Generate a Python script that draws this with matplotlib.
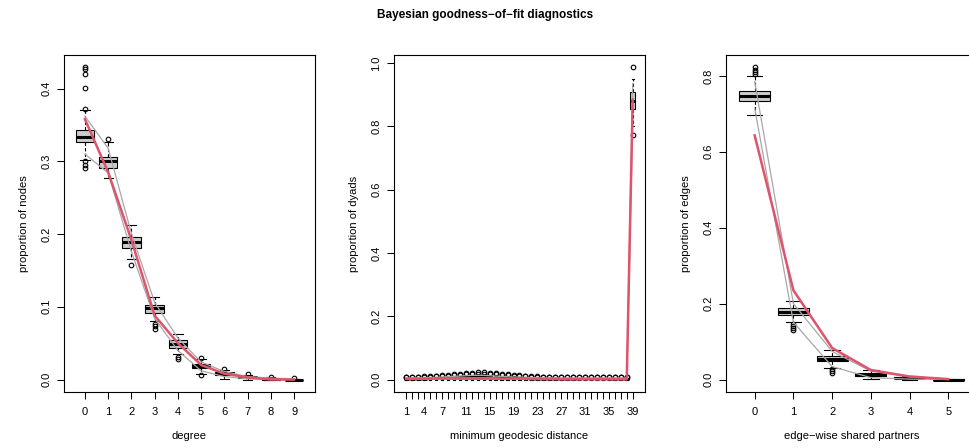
import numpy as np
import matplotlib.pyplot as plt

plt.rcParams['font.family'] = ['Liberation Sans', 'DejaVu Sans']
plt.rcParams['font.size'] = 8

# ---- degree panel ----
deg_x = [0, 1, 2, 3, 4, 5, 6, 7, 8, 9]
deg_q1 = [0.326, 0.291, 0.181, 0.092, 0.044, 0.016, 0.006, 0.002, 0.000, 0.000]
deg_med = [0.334, 0.300, 0.189, 0.098, 0.049, 0.019, 0.008, 0.003, 0.001, 0.000]
deg_q3 = [0.343, 0.306, 0.196, 0.103, 0.054, 0.022, 0.010, 0.004, 0.001, 0.000]
deg_lo = [0.302, 0.277, 0.166, 0.080, 0.035, 0.008, 0.001, 0.000, 0.000, 0.000]
deg_hi = [0.370, 0.327, 0.212, 0.114, 0.063, 0.028, 0.013, 0.006, 0.003, 0.001]
deg_fliers = [[0.429, 0.427, 0.420, 0.401, 0.372, 0.300, 0.295, 0.291],
              [0.330],
              [0.157],
              [0.077, 0.073, 0.070],
              [0.031, 0.028],
              [0.030, 0.006],
              [0.015],
              [0.007],
              [0.004],
              [0.002]]
deg_obs = [0.358, 0.285, 0.192, 0.088, 0.050, 0.020, 0.008, 0.003, 0.000, 0.000]
deg_up = [0.362, 0.318, 0.201, 0.106, 0.057, 0.024, 0.011, 0.004, 0.002, 0.001]
deg_low = [0.310, 0.284, 0.176, 0.084, 0.040, 0.012, 0.004, 0.001, 0.000, 0.000]

# ---- geodesic distance panel (last = Inf) ----
geo_x = list(range(1, 40))
geo_labels = ['1', '', '', '4', '', '', '7', '', '', '', '11', '', '', '', '15', '', '', '', '19', '',
              '', '', '23', '', '', '', '27', '', '', '', '31', '', '', '', '35', '', '', '', '39']
geo_q1 = [0.001, 0.001, 0.001, 0.001, 0.002, 0.002, 0.002, 0.002, 0.002, 0.003,
          0.003, 0.003, 0.003, 0.003, 0.003, 0.003, 0.003, 0.002, 0.002, 0.002,
          0.002, 0.001, 0.001, 0.001, 0.001, 0.001, 0.001, 0.001, 0.001, 0.001,
          0.001, 0.001, 0.001, 0.001, 0.001, 0.001, 0.001, 0.001, 0.854]
geo_med = [0.003, 0.003, 0.003, 0.003, 0.004, 0.004, 0.004, 0.005, 0.005, 0.006,
           0.006, 0.007, 0.007, 0.007, 0.007, 0.006, 0.006, 0.005, 0.005, 0.004,
           0.004, 0.003, 0.003, 0.003, 0.003, 0.003, 0.002, 0.002, 0.002, 0.002,
           0.002, 0.002, 0.002, 0.002, 0.002, 0.002, 0.002, 0.002, 0.880]
geo_q3 = [0.004, 0.004, 0.004, 0.005, 0.005, 0.006, 0.006, 0.007, 0.008, 0.009,
          0.010, 0.010, 0.011, 0.011, 0.010, 0.009, 0.009, 0.008, 0.007, 0.006,
          0.006, 0.005, 0.005, 0.004, 0.004, 0.004, 0.004, 0.004, 0.004, 0.004,
          0.004, 0.004, 0.004, 0.004, 0.004, 0.004, 0.004, 0.004, 0.909]
geo_lo = [0.000, 0.000, 0.000, 0.000, 0.000, 0.000, 0.000, 0.000, 0.000, 0.000,
          0.000, 0.000, 0.000, 0.000, 0.000, 0.000, 0.000, 0.000, 0.000, 0.000,
          0.000, 0.000, 0.000, 0.000, 0.000, 0.000, 0.000, 0.000, 0.000, 0.000,
          0.000, 0.000, 0.000, 0.000, 0.000, 0.000, 0.000, 0.000, 0.800]
geo_hi = [0.006, 0.006, 0.006, 0.007, 0.007, 0.008, 0.009, 0.010, 0.011, 0.012,
          0.013, 0.014, 0.015, 0.015, 0.014, 0.013, 0.012, 0.011, 0.010, 0.009,
          0.008, 0.007, 0.007, 0.006, 0.006, 0.006, 0.006, 0.006, 0.006, 0.006,
          0.006, 0.006, 0.006, 0.006, 0.006, 0.006, 0.006, 0.006, 0.951]
geo_fl_a = [0.007, 0.007, 0.008, 0.008, 0.009, 0.010, 0.011, 0.012, 0.013, 0.014,
            0.016, 0.017, 0.018, 0.018, 0.017, 0.016, 0.014, 0.013, 0.012, 0.011,
            0.010, 0.009, 0.008, 0.007, 0.007, 0.007, 0.007, 0.007, 0.007, 0.007,
            0.007, 0.007, 0.007, 0.007, 0.007, 0.007, 0.007, 0.007, 0.772]
geo_fl_b = [0.008, 0.008, 0.009, 0.010, 0.011, 0.012, 0.013, 0.015, 0.017, 0.019,
            0.021, 0.022, 0.023, 0.023, 0.022, 0.020, 0.018, 0.016, 0.014, 0.013,
            0.012, 0.011, 0.010, 0.008, 0.008, 0.008, 0.008, 0.008, 0.008, 0.008,
            0.008, 0.008, 0.008, 0.008, 0.008, 0.008, 0.008, 0.008, 0.986]
geo_obs = [0.002, 0.002, 0.002, 0.003, 0.003, 0.003, 0.004, 0.004, 0.004, 0.004,
           0.004, 0.004, 0.004, 0.004, 0.004, 0.004, 0.003, 0.003, 0.003, 0.003,
           0.003, 0.002, 0.002, 0.002, 0.002, 0.002, 0.001, 0.001, 0.001, 0.001,
           0.001, 0.001, 0.001, 0.001, 0.001, 0.001, 0.001, 0.001, 0.885]
geo_up = [0.005, 0.005, 0.005, 0.006, 0.006, 0.007, 0.008, 0.009, 0.010, 0.011,
          0.012, 0.013, 0.013, 0.013, 0.012, 0.011, 0.010, 0.009, 0.008, 0.008,
          0.007, 0.006, 0.006, 0.005, 0.005, 0.005, 0.005, 0.005, 0.005, 0.005,
          0.005, 0.005, 0.005, 0.005, 0.005, 0.005, 0.005, 0.005, 0.935]
geo_low = [0.001, 0.001, 0.001, 0.001, 0.001, 0.001, 0.001, 0.001, 0.001, 0.001,
           0.001, 0.001, 0.001, 0.001, 0.001, 0.001, 0.001, 0.001, 0.001, 0.001,
           0.000, 0.000, 0.000, 0.000, 0.000, 0.000, 0.000, 0.000, 0.000, 0.000,
           0.000, 0.000, 0.000, 0.000, 0.000, 0.000, 0.000, 0.000, 0.815]

# ---- edge-wise shared partners panel ----
esp_x = [0, 1, 2, 3, 4, 5]
esp_q1 = [0.734, 0.169, 0.048, 0.009, 0.003, 0.000]
esp_med = [0.747, 0.178, 0.055, 0.013, 0.005, 0.000]
esp_q3 = [0.761, 0.189, 0.062, 0.017, 0.006, 0.001]
esp_lo = [0.696, 0.151, 0.031, 0.002, 0.000, 0.000]
esp_hi = [0.800, 0.208, 0.077, 0.025, 0.010, 0.002]
esp_fliers = [[0.806, 0.811, 0.816, 0.822], [0.145, 0.140, 0.135, 0.130],
              [0.027, 0.022, 0.018], [], [], []]
esp_obs = [0.643, 0.235, 0.083, 0.025, 0.008, 0.001]
esp_up = [0.785, 0.200, 0.074, 0.022, 0.007, 0.002]
esp_low = [0.715, 0.151, 0.034, 0.005, 0.001, 0.000]


def draw(ax, pos, q1, med, q3, lo, hi, fliers, obs, up, low):
    stats = [dict(med=m, q1=a, q3=b, whislo=l, whishi=h, fliers=f)
             for a, m, b, l, h, f in zip(q1, med, q3, lo, hi, fliers)]
    ax.bxp(stats, positions=pos, widths=0.8, capwidths=0.4, patch_artist=True,
           boxprops=dict(facecolor='#cccccc', edgecolor='black', linewidth=0.8),
           medianprops=dict(color='black', linewidth=2.2),
           whiskerprops=dict(color='black', linestyle=(0, (3, 2)), linewidth=0.8),
           capprops=dict(color='black', linewidth=0.8),
           flierprops=dict(marker='o', markersize=3.3, markerfacecolor='none',
                           markeredgecolor='black', markeredgewidth=0.8),
           manage_ticks=False)
    ax.plot(pos, up, color='#a8a8a8', lw=0.9, zorder=4)
    ax.plot(pos, low, color='#a8a8a8', lw=0.9, zorder=4)
    ax.plot(pos, obs, color='#df536b', lw=1.8, zorder=5)
    n = len(pos)
    ax.set_xlim(pos[0] - 0.5 - 0.04 * n, pos[-1] + 0.5 + 0.04 * n)
    top = max(max(hi), max(max(f) if f else 0 for f in fliers), max(obs))
    ax.set_ylim(-0.04 * top, top * 1.04)
    ax.tick_params(direction='out', length=5, width=0.75)
    ax.tick_params(axis='x', pad=6)
    ax.tick_params(axis='y', pad=4)
    for s in ax.spines.values():
        s.set_linewidth(0.8)


fig = plt.figure(figsize=(9.7, 4.48), dpi=100)
W, H = 970, 448
lefts = [64, 394, 726]
axes = [fig.add_axes([l / W, 56 / H, 251 / W, 337 / H]) for l in lefts]

ax = axes[0]
draw(ax, deg_x, deg_q1, deg_med, deg_q3, deg_lo, deg_hi, deg_fliers, deg_obs, deg_up, deg_low)
ax.set_xticks(deg_x)
ax.set_xticklabels([str(v) for v in deg_x])
ax.set_yticks([0.0, 0.1, 0.2, 0.3, 0.4])
ax.set_yticklabels(['0.0', '0.1', '0.2', '0.3', '0.4'], rotation=90, va='center')
ax.set_xlabel('degree', labelpad=10)
ax.set_ylabel('proportion of nodes', labelpad=9)

ax = axes[1]
geo_fliers = [[a, b] for a, b in zip(geo_fl_a, geo_fl_b)]
draw(ax, geo_x, geo_q1, geo_med, geo_q3, geo_lo, geo_hi, geo_fliers, geo_obs, geo_up, geo_low)
ax.set_xticks(geo_x)
ax.set_xticklabels(geo_labels)
ax.set_yticks([0.0, 0.2, 0.4, 0.6, 0.8, 1.0])
ax.set_yticklabels(['0.0', '0.2', '0.4', '0.6', '0.8', '1.0'], rotation=90, va='center')
ax.set_xlabel('minimum geodesic distance', labelpad=10)
ax.set_ylabel('proportion of dyads', labelpad=9)

ax = axes[2]
draw(ax, esp_x, esp_q1, esp_med, esp_q3, esp_lo, esp_hi, esp_fliers, esp_obs, esp_up, esp_low)
ax.set_xticks(esp_x)
ax.set_xticklabels([str(v) for v in esp_x])
ax.set_yticks([0.0, 0.2, 0.4, 0.6, 0.8])
ax.set_yticklabels(['0.0', '0.2', '0.4', '0.6', '0.8'], rotation=90, va='center')
ax.set_xlabel('edge\u2212wise shared partners', labelpad=10)
ax.set_ylabel('proportion of edges', labelpad=9)

fig.text(0.5, 1 - 15 / H, 'Bayesian goodness\u2212of\u2212fit diagnostics',
         ha='center', va='center', fontweight='bold', fontsize=8.5)

fig.savefig('out.png', dpi=100)
